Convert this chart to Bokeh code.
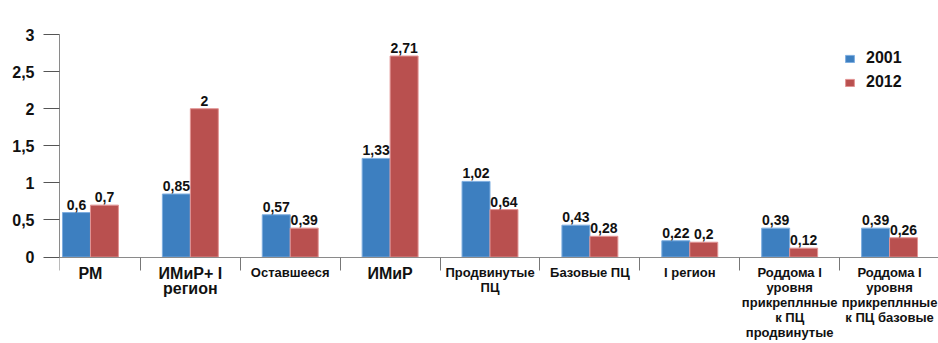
from bokeh.plotting import figure
from bokeh.models import (ColumnDataSource, Range1d, FixedTicker, Legend, LegendItem,
                          LabelSet, LinearAxis)
from bokeh.core.properties import value
from bokeh.embed import file_html
from bokeh.resources import INLINE

# Categories (multi-line captions) and the two series
categories = [
    "РМ",
    "ИМиР+ I\nрегион",
    "Оставшееся",
    "ИМиР",
    "Продвинутые\nПЦ",
    "Базовые ПЦ",
    "I регион",
    "Роддома I\nуровня\nприкреплнные\nк ПЦ\nпродвинутые",
    "Роддома I\nуровня\nприкреплнные\nк ПЦ базовые",
]
values_2001 = [0.6, 0.85, 0.57, 1.33, 1.02, 0.43, 0.22, 0.39, 0.39]
values_2012 = [0.7, 2, 0.39, 2.71, 0.64, 0.28, 0.2, 0.12, 0.26]
series_names = ["2001", "2012"]

y_ticks = [0, 0.5, 1, 1.5, 2, 2.5, 3]
y_tick_labels = ["0", "0,5", "1", "1,5", "2", "2,5", "3"]

BLUE, BLUE_EDGE = "#3d7fc0", "#7eaee0"
RED, RED_EDGE = "#b9504f", "#e29494"
FONT = "Liberation Sans"
INK = "#111111"

# the three main groups get a larger caption
big_captions = {"РМ", "ИМиР+ I\nрегион", "ИМиР"}

idx = list(range(len(categories)))
bar_w = 0.28


def fmt(v):
    return f"{v:g}".replace(".", ",")


src_a = ColumnDataSource(dict(
    x=[i - bar_w / 2 for i in idx], top=values_2001,
    label=[fmt(v) for v in values_2001]))
src_b = ColumnDataSource(dict(
    x=[i + bar_w / 2 for i in idx], top=values_2012,
    label=[fmt(v) for v in values_2012]))

is_big = [c in big_captions for c in categories]
src_cat = ColumnDataSource(dict(
    x=idx, y=[0] * len(idx), text=categories,
    size=["16px" if b else "13px" for b in is_big],
    lh=[0.88 if b else 1.0 for b in is_big]))

x_start, x_end = -0.31, 8.49

# the frame runs to the bottom of the page; the value axis covers 0..3 and
# the category captions sit below the zero line
p = figure(
    width=938, height=343,
    x_range=Range1d(x_start, x_end), y_range=Range1d(-1.165, 3),
    x_axis_location=None,
    output_backend="svg", toolbar_location=None,
    min_border_left=59, min_border_right=0, min_border_top=34, min_border_bottom=0,
)
p.outline_line_color = None
p.xgrid.visible = False
p.ygrid.visible = False
p.background_fill_color = "white"
p.border_fill_color = "white"

r_a = p.vbar(x="x", top="top", width=bar_w, source=src_a,
             fill_color=BLUE, line_color=BLUE_EDGE, line_width=1)
r_b = p.vbar(x="x", top="top", width=bar_w, source=src_b,
             fill_color=RED, line_color=RED_EDGE, line_width=1)

# value labels above each bar
for src in (src_a, src_b):
    p.add_layout(LabelSet(
        x="x", y="top", text="label", source=src,
        text_align="center", text_baseline="bottom", y_offset=3,
        text_font=value(FONT), text_font_style="bold", text_font_size="14px",
        text_color=INK))

# category captions under the zero line
p.text(x="x", y="y", text="text", source=src_cat,
       text_align="center", text_baseline="top", y_offset=8,
       text_font=value(FONT), text_font_style="bold", text_font_size="size",
       text_line_height="lh", text_color=INK)

# y axis
ya = p.yaxis[0]
ya.bounds = (0, 3)
ya.ticker = FixedTicker(ticks=y_ticks, minor_ticks=[])
ya.major_label_overrides = {t: s for t, s in zip(y_ticks, y_tick_labels)}
ya.major_label_text_font = FONT
ya.major_label_text_font_style = "bold"
ya.major_label_text_font_size = "16px"
ya.major_label_text_color = INK
ya.major_tick_out = 16
ya.major_tick_in = 0
ya.major_label_standoff = 9
ya.axis_line_color = "#8a8a8a"
ya.major_tick_line_color = "#555555"

# category axis on the zero line: only the group separators, as minor ticks
xa = LinearAxis(fixed_location=0)
xa.ticker = FixedTicker(ticks=[], minor_ticks=[x_start] + [i + 0.5 for i in idx[:-1]])
xa.major_tick_out = 0
xa.major_tick_in = 0
xa.minor_tick_out = 13
xa.minor_tick_in = 0
xa.minor_tick_line_color = "#777777"
xa.axis_line_color = "#8a8a8a"
p.add_layout(xa, "below")

legend = Legend(
    items=[LegendItem(label=series_names[0], renderers=[r_a]),
           LegendItem(label=series_names[1], renderers=[r_b])],
    location=(785, 251),
    orientation="vertical",
    label_text_font=FONT, label_text_font_style="bold", label_text_font_size="16px",
    label_text_color=INK,
    glyph_width=11, glyph_height=9, label_standoff=11,
    label_height=20, spacing=4, padding=0, margin=0,
    border_line_color=None, background_fill_alpha=0,
)
p.add_layout(legend)

open("out.html", "w").write(file_html(p, INLINE))
